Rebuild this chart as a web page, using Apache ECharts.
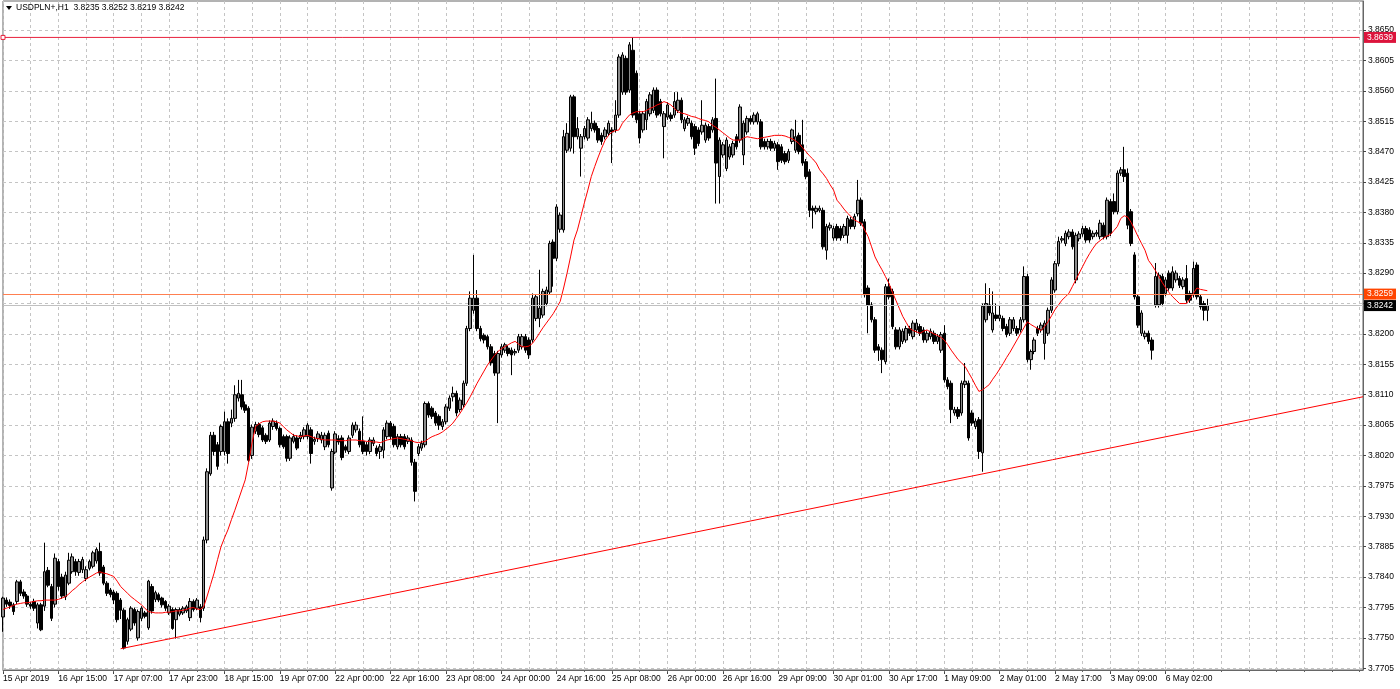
<!DOCTYPE html>
<html>
<head>
<meta charset="utf-8">
<script src="https://cdn.jsdelivr.net/npm/echarts@6/dist/echarts.min.js"></script>
<style>
html,body{margin:0;padding:0;background:#fff;}
#chart{width:1400px;height:689px;}
</style>
</head>
<body>
<div id="chart"></div>
<script>
// ---------- data ----------
const symbolName = 'USDPLN+,H1';
const lastBar = [3.8235, 3.8252, 3.8219, 3.8242];   // O H L C shown in header
const xTickLabels = ['15 Apr 2019','16 Apr 15:00','17 Apr 07:00','17 Apr 23:00','18 Apr 15:00','19 Apr 07:00',
  '22 Apr 00:00','22 Apr 16:00','23 Apr 08:00','24 Apr 00:00','24 Apr 16:00','25 Apr 08:00','26 Apr 00:00',
  '26 Apr 16:00','29 Apr 09:00','30 Apr 01:00','30 Apr 17:00','1 May 09:00','2 May 01:00','2 May 17:00',
  '3 May 09:00','6 May 02:00'];
const yTickValues = [3.7705,3.7750,3.7795,3.7840,3.7885,3.7930,3.7975,3.8020,3.8065,3.8110,3.8155,3.8200,
  3.8245,3.8290,3.8335,3.8380,3.8425,3.8470,3.8515,3.8560,3.8605,3.8650];
const slotCount = 394;          // hourly slots visible on the axis (bars + empty right margin)
const labelEvery = 16;
const gridEvery = 8;
const highLevel = 3.8639;
const orangeLevel = 3.8259;
const bidLevel = 3.8242;
const highLevelAnchors = [0, 392];   // slots where the level line's end markers sit
const trendFrom = [34, 3.7734];
const trendTo = [393, 3.8107];

// [open, close, low, high]
const ohlc = [
 [3.7781,3.7809,3.7759,3.7811],[3.7806,3.7800,3.7796,3.7810],[3.7803,3.7798,3.7793,3.7807],[3.7799,3.7789,3.7784,3.7802],[3.7804,3.7833,3.7800,3.7836],
 [3.7833,3.7816,3.7812,3.7836],[3.7818,3.7812,3.7808,3.7822],[3.7812,3.7800,3.7796,3.7815],[3.7800,3.7797,3.7793,3.7803],[3.7804,3.7794,3.7790,3.7808],
 [3.7772,3.7799,3.7764,3.7802],[3.7799,3.7762,3.7760,3.7802],[3.7797,3.7848,3.7790,3.7891],[3.7850,3.7828,3.7825,3.7855],[3.7826,3.7779,3.7775,3.7830],
 [3.7800,3.7868,3.7795,3.7875],[3.7863,3.7826,3.7820,3.7867],[3.7840,3.7812,3.7808,3.7845],[3.7811,3.7843,3.7806,3.7848],[3.7831,3.7865,3.7828,3.7876],
 [3.7848,3.7870,3.7845,3.7875],[3.7863,3.7848,3.7842,3.7867],[3.7847,3.7863,3.7842,3.7867],[3.7851,3.7866,3.7846,3.7870],[3.7838,3.7851,3.7834,3.7856],
 [3.7853,3.7863,3.7850,3.7866],[3.7856,3.7876,3.7853,3.7879],[3.7864,3.7881,3.7860,3.7884],[3.7878,3.7846,3.7842,3.7891],[3.7855,3.7831,3.7828,3.7858],
 [3.7831,3.7816,3.7812,3.7834],[3.7821,3.7814,3.7810,3.7824],[3.7818,3.7806,3.7800,3.7821],[3.7816,3.7777,3.7773,3.7819],[3.7806,3.7791,3.7778,3.7809],
 [3.7791,3.7735,3.7733,3.7794],[3.7745,3.7777,3.7740,3.7780],[3.7763,3.7794,3.7760,3.7797],[3.7792,3.7772,3.7768,3.7795],[3.7750,3.7789,3.7746,3.7792],
 [3.7779,3.7794,3.7775,3.7797],[3.7787,3.7782,3.7779,3.7790],[3.7765,3.7834,3.7762,3.7836],[3.7826,3.7790,3.7786,3.7830],[3.7807,3.7817,3.7803,3.7820],
 [3.7814,3.7806,3.7803,3.7817],[3.7809,3.7799,3.7795,3.7811],[3.7804,3.7794,3.7790,3.7806],[3.7787,3.7797,3.7784,3.7800],[3.7792,3.7764,3.7762,3.7795],
 [3.7777,3.7792,3.7749,3.7795],[3.7785,3.7792,3.7782,3.7795],[3.7787,3.7794,3.7784,3.7797],[3.7790,3.7796,3.7787,3.7799],[3.7780,3.7804,3.7775,3.7809],
 [3.7804,3.7792,3.7789,3.7807],[3.7794,3.7806,3.7791,3.7809],[3.7796,3.7780,3.7773,3.7800],[3.7794,3.7895,3.7790,3.7900],[3.7895,3.7996,3.7890,3.8001],
 // 60
 [3.7993,3.8050,3.7990,3.8055],[3.8050,3.8026,3.8020,3.8055],[3.8036,3.8004,3.7999,3.8040],[3.8026,3.8063,3.8020,3.8066],[3.8026,3.8070,3.8020,3.8085],
 [3.8070,3.8023,3.8008,3.8075],[3.8068,3.8075,3.8062,3.8088],[3.8075,3.8110,3.8070,3.8124],[3.8105,3.8112,3.8100,3.8132],[3.8110,3.8092,3.8088,3.8132],
 [3.8095,3.8087,3.8083,3.8100],[3.8090,3.8013,3.8010,3.8093],[3.8020,3.8062,3.8015,3.8066],[3.8056,3.8066,3.8052,3.8070],[3.8066,3.8051,3.8047,3.8069],
 [3.8061,3.8043,3.8040,3.8064],[3.8050,3.8041,3.8037,3.8053],[3.8043,3.8068,3.8040,3.8072],[3.8063,3.8071,3.8058,3.8075],[3.8068,3.8060,3.8057,3.8072],
 [3.8060,3.8036,3.8032,3.8063],[3.8048,3.8033,3.8030,3.8051],[3.8048,3.8016,3.8011,3.8051],[3.8016,3.8046,3.8012,3.8050],[3.8041,3.8048,3.8038,3.8052],
 [3.8046,3.8031,3.8028,3.8050],[3.8045,3.8050,3.8040,3.8055],[3.8048,3.8058,3.8044,3.8062],[3.8048,3.8065,3.8044,3.8068],[3.8058,3.8023,3.8008,3.8062],
 [3.8041,3.8044,3.8036,3.8048],[3.8045,3.8052,3.8040,3.8056],[3.8043,3.8050,3.8038,3.8055],[3.8033,3.8050,3.8028,3.8054],[3.8053,3.8036,3.8032,3.8057],
 [3.7972,3.8026,3.7968,3.8030],[3.8025,3.8052,3.8022,3.8056],[3.8045,3.8040,3.8036,3.8050],[3.8046,3.8017,3.8013,3.8050],[3.8033,3.8028,3.8024,3.8036],
 // 100
 [3.8026,3.8046,3.8022,3.8050],[3.8050,3.8065,3.8046,3.8069],[3.8058,3.8065,3.8054,3.8070],[3.8056,3.8036,3.8032,3.8060],[3.8041,3.8026,3.8022,3.8078],
 [3.8036,3.8026,3.8020,3.8040],[3.8026,3.8043,3.8022,3.8047],[3.8038,3.8043,3.8034,3.8047],[3.8031,3.8023,3.8019,3.8035],[3.8026,3.8033,3.8015,3.8037],
 [3.8028,3.8058,3.8016,3.8062],[3.8048,3.8068,3.8044,3.8072],[3.8068,3.8048,3.8044,3.8071],[3.8063,3.8036,3.8032,3.8067],[3.8033,3.8048,3.8029,3.8052],
 [3.8048,3.8036,3.8032,3.8052],[3.8048,3.8033,3.8029,3.8052],[3.8041,3.8046,3.8037,3.8050],[3.8043,3.8010,3.8005,3.8047],[3.8010,3.7967,3.7952,3.8015],
 [3.8023,3.8033,3.8019,3.8037],[3.8031,3.8038,3.8027,3.8042],[3.8036,3.8097,3.8032,3.8100],[3.8097,3.8080,3.8076,3.8100],[3.8090,3.8078,3.8074,3.8093],
 [3.8083,3.8068,3.8064,3.8086],[3.8078,3.8065,3.8058,3.8081],[3.8063,3.8070,3.8058,3.8074],[3.8070,3.8092,3.8066,3.8096],[3.8090,3.8105,3.8086,3.8109],
 [3.8107,3.8112,3.8100,3.8122],[3.8112,3.8083,3.8078,3.8116],[3.8088,3.8102,3.8084,3.8106],[3.8095,3.8127,3.8091,3.8131],[3.8127,3.8208,3.8123,3.8212],
 [3.8208,3.8253,3.8204,3.8263],[3.8235,3.8253,3.8230,3.8317],[3.8253,3.8208,3.8204,3.8265],[3.8208,3.8193,3.8189,3.8212],[3.8198,3.8191,3.8186,3.8201],
 // 140
 [3.8196,3.8181,3.8177,3.8199],[3.8181,3.8157,3.8153,3.8185],[3.8171,3.8142,3.8138,3.8175],[3.8142,3.8171,3.8068,3.8175],[3.8169,3.8181,3.8165,3.8185],
 [3.8176,3.8184,3.8172,3.8187],[3.8179,3.8171,3.8167,3.8183],[3.8176,3.8169,3.8139,3.8180],[3.8172,3.8174,3.8168,3.8178],[3.8176,3.8196,3.8172,3.8200],
 [3.8181,3.8196,3.8177,3.8200],[3.8196,3.8176,3.8172,3.8200],[3.8191,3.8169,3.8163,3.8195],[3.8191,3.8253,3.8187,3.8260],[3.8223,3.8255,3.8219,3.8259],
 [3.8223,3.8238,3.8210,3.8295],[3.8228,3.8263,3.8224,3.8267],[3.8245,3.8265,3.8241,3.8270],[3.8262,3.8334,3.8258,3.8338],[3.8336,3.8312,3.8270,3.8340],
 [3.8312,3.8388,3.8308,3.8392],[3.8355,3.8376,3.8350,3.8380],[3.8354,3.8492,3.8350,3.8502],[3.8472,3.8497,3.8468,3.8512],[3.8475,3.8551,3.8470,3.8554],
 [3.8551,3.8492,3.8467,3.8554],[3.8492,3.8504,3.8488,3.8521],[3.8475,3.8492,3.8433,3.8496],[3.8492,3.8504,3.8488,3.8508],[3.8490,3.8517,3.8486,3.8521],
 [3.8504,3.8512,3.8500,3.8529],[3.8512,3.8502,3.8498,3.8516],[3.8504,3.8487,3.8483,3.8508],[3.8494,3.8485,3.8480,3.8498],[3.8492,3.8502,3.8488,3.8506],
 [3.8497,3.8512,3.8493,3.8516],[3.8502,3.8499,3.8453,3.8506],[3.8502,3.8524,3.8498,3.8546],[3.8524,3.8610,3.8520,3.8614],[3.8558,3.8613,3.8554,3.8617],
 // 180
 [3.8608,3.8558,3.8554,3.8612],[3.8561,3.8628,3.8557,3.8632],[3.8620,3.8524,3.8520,3.8639],[3.8586,3.8517,3.8512,3.8590],[3.8526,3.8490,3.8482,3.8530],
 [3.8502,3.8526,3.8498,3.8530],[3.8517,3.8544,3.8502,3.8548],[3.8526,3.8554,3.8522,3.8558],[3.8531,3.8561,3.8527,3.8565],[3.8561,3.8524,3.8520,3.8565],
 [3.8544,3.8526,3.8522,3.8548],[3.8507,3.8526,3.8460,3.8530],[3.8521,3.8539,3.8517,3.8543],[3.8524,3.8519,3.8515,3.8528],[3.8524,3.8544,3.8520,3.8558],
 [3.8531,3.8546,3.8527,3.8558],[3.8546,3.8517,3.8512,3.8550],[3.8504,3.8517,3.8500,3.8521],[3.8512,3.8519,3.8508,3.8523],[3.8512,3.8492,3.8488,3.8516],
 [3.8507,3.8475,3.8465,3.8511],[3.8502,3.8482,3.8478,3.8506],[3.8499,3.8509,3.8495,3.8546],[3.8487,3.8509,3.8483,3.8513],[3.8507,3.8490,3.8486,3.8511],
 [3.8502,3.8517,3.8498,3.8521],[3.8519,3.8453,3.8393,3.8578],[3.8433,3.8487,3.8393,3.8491],[3.8465,3.8480,3.8461,3.8484],[3.8445,3.8487,3.8441,3.8491],
 [3.8462,3.8477,3.8458,3.8481],[3.8465,3.8482,3.8461,3.8486],[3.8492,3.8477,3.8473,3.8496],[3.8487,3.8536,3.8483,3.8540],[3.8465,3.8512,3.8450,3.8516],
 [3.8499,3.8519,3.8495,3.8523],[3.8519,3.8514,3.8510,3.8523],[3.8514,3.8524,3.8510,3.8528],[3.8514,3.8526,3.8510,3.8529],[3.8514,3.8477,3.8473,3.8518],
 // 220
 [3.8485,3.8477,3.8473,3.8489],[3.8477,3.8485,3.8473,3.8489],[3.8485,3.8475,3.8471,3.8489],[3.8475,3.8482,3.8471,3.8486],[3.8480,3.8455,3.8443,3.8484],
 [3.8477,3.8457,3.8453,3.8481],[3.8467,3.8455,3.8451,3.8471],[3.8457,3.8470,3.8453,3.8474],[3.8485,3.8502,3.8481,3.8504],[3.8472,3.8492,3.8468,3.8517],
 [3.8494,3.8470,3.8466,3.8498],[3.8480,3.8453,3.8449,3.8517],[3.8455,3.8433,3.8429,3.8459],[3.8440,3.8383,3.8373,3.8444],[3.8386,3.8383,3.8356,3.8390],
 [3.8381,3.8386,3.8377,3.8390],[3.8383,3.8386,3.8380,3.8390],[3.8383,3.8329,3.8325,3.8387],[3.8324,3.8359,3.8310,3.8363],[3.8357,3.8361,3.8353,3.8365],
 [3.8342,3.8356,3.8338,3.8360],[3.8359,3.8342,3.8338,3.8363],[3.8356,3.8342,3.8338,3.8360],[3.8346,3.8359,3.8342,3.8363],[3.8346,3.8371,3.8334,3.8375],
 [3.8369,3.8359,3.8355,3.8373],[3.8359,3.8374,3.8355,3.8378],[3.8378,3.8398,3.8374,3.8428],[3.8398,3.8364,3.8360,3.8402],[3.8366,3.8258,3.8254,3.8370],
 [3.8268,3.8243,3.8201,3.8272],[3.8243,3.8221,3.8217,3.8247],[3.8221,3.8176,3.8172,3.8225],[3.8181,3.8176,3.8160,3.8185],[3.8176,3.8162,3.8142,3.8180],
 [3.8159,3.8270,3.8155,3.8274],[3.8270,3.8255,3.8251,3.8282],[3.8263,3.8211,3.8207,3.8267],[3.8206,3.8181,3.8177,3.8210],[3.8181,3.8206,3.8177,3.8210],
 // 260
 [3.8189,3.8204,3.8185,3.8208],[3.8191,3.8208,3.8187,3.8212],[3.8208,3.8201,3.8197,3.8212],[3.8196,3.8216,3.8192,3.8220],[3.8206,3.8216,3.8202,3.8222],
 [3.8211,3.8201,3.8197,3.8215],[3.8206,3.8191,3.8187,3.8210],[3.8191,3.8201,3.8187,3.8205],[3.8196,3.8204,3.8192,3.8208],[3.8201,3.8189,3.8185,3.8205],
 [3.8189,3.8196,3.8185,3.8200],[3.8176,3.8199,3.8172,3.8203],[3.8201,3.8132,3.8128,3.8213],[3.8132,3.8122,3.8118,3.8136],[3.8127,3.8088,3.8068,3.8131],
 [3.8083,3.8088,3.8079,3.8092],[3.8088,3.8078,3.8074,3.8092],[3.8083,3.8127,3.8079,3.8131],[3.8125,3.8130,3.8120,3.8157],[3.8127,3.8046,3.8042,3.8131],
 [3.8083,3.8068,3.8064,3.8087],[3.8063,3.8071,3.8059,3.8075],[3.8073,3.8026,3.8015,3.8077],[3.8024,3.8241,3.7996,3.8245],[3.8221,3.8245,3.8217,3.8275],
 [3.8243,3.8231,3.8227,3.8268],[3.8206,3.8231,3.8202,3.8263],[3.8228,3.8223,3.8219,3.8245],[3.8223,3.8228,3.8219,3.8243],[3.8223,3.8208,3.8204,3.8227],
 [3.8211,3.8199,3.8195,3.8215],[3.8201,3.8221,3.8197,3.8225],[3.8208,3.8221,3.8204,3.8225],[3.8208,3.8201,3.8197,3.8212],[3.8206,3.8221,3.8202,3.8225],
 [3.8221,3.8285,3.8217,3.8300],[3.8285,3.8162,3.8158,3.8289],[3.8162,3.8174,3.8147,3.8177],[3.8174,3.8191,3.8170,3.8195],[3.8208,3.8201,3.8197,3.8212],
 // 300
 [3.8206,3.8213,3.8202,3.8217],[3.8186,3.8216,3.8162,3.8220],[3.8201,3.8235,3.8197,3.8239],[3.8235,3.8280,3.8231,3.8284],[3.8265,3.8304,3.8261,3.8308],
 [3.8304,3.8337,3.8300,3.8344],[3.8339,3.8341,3.8335,3.8345],[3.8334,3.8349,3.8330,3.8353],[3.8344,3.8351,3.8340,3.8355],[3.8351,3.8329,3.8325,3.8355],
 [3.8280,3.8346,3.8275,3.8350],[3.8341,3.8348,3.8337,3.8352],[3.8348,3.8356,3.8344,3.8360],[3.8356,3.8339,3.8335,3.8360],[3.8354,3.8339,3.8335,3.8358],
 [3.8344,3.8349,3.8340,3.8353],[3.8348,3.8350,3.8344,3.8354],[3.8344,3.8364,3.8340,3.8369],[3.8361,3.8344,3.8340,3.8365],[3.8344,3.8398,3.8340,3.8402],
 [3.8396,3.8349,3.8345,3.8400],[3.8396,3.8381,3.8377,3.8408],[3.8381,3.8438,3.8377,3.8442],[3.8438,3.8443,3.8434,3.8447],[3.8443,3.8433,3.8425,3.8477],
 [3.8438,3.8361,3.8355,3.8445],[3.8381,3.8334,3.8330,3.8385],[3.8317,3.8255,3.8251,3.8321],[3.8255,3.8213,3.8209,3.8259],[3.8201,3.8231,3.8197,3.8235],
 [3.8196,3.8201,3.8192,3.8205],[3.8201,3.8189,3.8185,3.8205],[3.8191,3.8176,3.8162,3.8195],[3.8243,3.8285,3.8239,3.8305],[3.8243,3.8287,3.8239,3.8291],
 [3.8285,3.8245,3.8241,3.8289],[3.8260,3.8280,3.8256,3.8284],[3.8290,3.8268,3.8264,3.8294],[3.8268,3.8292,3.8264,3.8300],[3.8280,3.8290,3.8276,3.8294],
 // 340
 [3.8282,3.8272,3.8268,3.8286],[3.8270,3.8280,3.8266,3.8284],[3.8282,3.8250,3.8246,3.8302],[3.8260,3.8250,3.8246,3.8264],[3.8258,3.8297,3.8254,3.8307],
 [3.8302,3.8255,3.8251,3.8306],[3.8255,3.8240,3.8236,3.8259],[3.8245,3.8235,3.8220,3.8249],[3.8235,3.8242,3.8219,3.8252]
];

// moving average, one value per bar
const maValues = [
 3.7792,3.7794,3.7796,3.7798,3.7800,3.7801,3.7802,3.7802,3.7803,3.7804,
 3.7805,3.7805,3.7806,3.7806,3.7806,3.7806,3.7807,3.7809,3.7811,3.7815,
 3.7820,3.7824,3.7829,3.7833,3.7837,3.7840,3.7843,3.7846,3.7848,3.7846,
 3.7845,3.7843,3.7841,3.7834,3.7826,3.7821,3.7816,3.7811,3.7807,3.7803,
 3.7799,3.7794,3.7789,3.7788,3.7787,3.7787,3.7787,3.7788,3.7788,3.7789,
 3.7790,3.7790,3.7791,3.7792,3.7794,3.7795,3.7793,3.7792,3.7796,3.7812,
 3.7829,3.7846,3.7866,3.7885,3.7898,3.7910,3.7925,3.7939,3.7954,3.7969,
 3.7984,3.8010,3.8040,3.8063,3.8067,3.8070,3.8071,3.8071,3.8071,3.8070,
 3.8068,3.8063,3.8058,3.8054,3.8050,3.8049,3.8048,3.8049,3.8050,3.8048,
 3.8046,3.8045,3.8044,3.8043,3.8043,3.8043,3.8043,3.8042,3.8042,3.8042,
 3.8043,3.8043,3.8043,3.8042,3.8042,3.8041,3.8041,3.8040,3.8040,3.8039,
 3.8041,3.8043,3.8044,3.8045,3.8046,3.8045,3.8044,3.8043,3.8042,3.8040,
 3.8039,3.8040,3.8041,3.8045,3.8048,3.8050,3.8052,3.8055,3.8059,3.8063,
 3.8068,3.8075,3.8082,3.8090,3.8098,3.8107,3.8117,3.8127,3.8136,3.8145,
 3.8154,3.8161,3.8168,3.8174,3.8178,3.8181,3.8184,3.8187,3.8189,3.8185,
 3.8181,3.8181,3.8182,3.8186,3.8193,3.8201,3.8209,3.8216,3.8223,3.8230,
 3.8239,3.8248,3.8268,3.8290,3.8314,3.8339,3.8354,3.8374,3.8394,3.8413,
 3.8433,3.8448,3.8462,3.8475,3.8487,3.8494,3.8499,3.8501,3.8502,3.8512,
 3.8518,3.8524,3.8527,3.8529,3.8529,3.8529,3.8531,3.8534,3.8536,3.8539,
 3.8541,3.8544,3.8542,3.8539,3.8534,3.8529,3.8527,3.8526,3.8524,3.8522,
 3.8521,3.8519,3.8517,3.8516,3.8514,3.8509,3.8506,3.8502,3.8498,3.8494,
 3.8490,3.8487,3.8487,3.8487,3.8490,3.8492,3.8491,3.8490,3.8489,3.8490,
 3.8491,3.8492,3.8493,3.8494,3.8494,3.8494,3.8493,3.8491,3.8489,3.8486,
 3.8482,3.8476,3.8470,3.8464,3.8459,3.8453,3.8443,3.8437,3.8430,3.8421,
 3.8413,3.8398,3.8392,3.8385,3.8379,3.8374,3.8369,3.8366,3.8364,3.8354,
 3.8344,3.8329,3.8314,3.8304,3.8295,3.8285,3.8275,3.8262,3.8250,3.8238,
 3.8226,3.8217,3.8208,3.8205,3.8203,3.8201,3.8204,3.8206,3.8203,3.8200,
 3.8198,3.8195,3.8191,3.8184,3.8176,3.8169,3.8162,3.8157,3.8152,3.8143,
 3.8134,3.8124,3.8115,3.8117,3.8121,3.8125,3.8133,3.8140,3.8148,3.8156,
 3.8165,3.8173,3.8182,3.8191,3.8200,3.8209,3.8218,3.8214,3.8211,3.8208,
 3.8205,3.8211,3.8218,3.8227,3.8236,3.8243,3.8250,3.8255,3.8260,3.8270,
 3.8280,3.8290,3.8300,3.8310,3.8319,3.8327,3.8334,3.8338,3.8342,3.8345,
 3.8347,3.8353,3.8359,3.8371,3.8375,3.8373,3.8365,3.8355,3.8344,3.8334,
 3.8324,3.8309,3.8302,3.8294,3.8285,3.8276,3.8268,3.8261,3.8255,3.8250,
 3.8245,3.8245,3.8245,3.8252,3.8260,3.8268,3.8266,3.8265,3.8264
];

// ---------- chart ----------
const slots = Array.from({length: slotCount}, (_, i) => i);
const FONT = '"Liberation Sans", Arial, sans-serif';
const chart = echarts.init(document.getElementById('chart'), null, {renderer: 'canvas'});

const lvlLabel = (bg, fg) => ({
  show: true, position: 'end', distance: 1, formatter: p => p.value.toFixed(4),
  color: fg, backgroundColor: bg, padding: [1, 3, 0, 3], fontFamily: FONT, fontSize: 8.5, lineHeight: 10
});

chart.setOption({
  animation: false,
  backgroundColor: '#ffffff',
  grid: {left: 2, right: 37, top: 1, bottom: 19, show: true, borderColor: '#666', borderWidth: 1, backgroundColor: '#fff'},
  graphic: [
    {type: 'polygon', shape: {points: [[6, 6], [12, 6], [9, 10]]}, style: {fill: '#000'}, z: 100},
    {type: 'text', left: 16, top: 3, z: 100,
     style: {text: symbolName + '  ' + lastBar.map(v => v.toFixed(4)).join(' '), font: '8.5px ' + FONT, fill: '#000'}}
  ],
  xAxis: [
    {
      type: 'category', data: slots, boundaryGap: false, position: 'bottom',
      axisLine: {show: true, lineStyle: {color: '#666', width: 1}},
      axisTick: {show: true, length: 4, lineStyle: {color: '#444'},
                 interval: i => i % labelEvery === 0 && i / labelEvery < xTickLabels.length},
      axisLabel: {show: true, align: 'left', margin: 4, color: '#000', fontFamily: FONT, fontSize: 8.5,
                  hideOverlap: false,
                  interval: i => i % labelEvery === 0 && i / labelEvery < xTickLabels.length,
                  formatter: (v, i) => xTickLabels[i / labelEvery] || ''},
      splitLine: {show: true, interval: i => i % gridEvery === 0,
                  lineStyle: {color: '#c4c4c4', type: [3, 3], width: 1}}
    },
    {
      type: 'category', data: slots, boundaryGap: false, position: 'bottom',
      axisLine: {show: false},
      axisTick: {show: true, length: 2, lineStyle: {color: '#666'}, interval: i => i % gridEvery === 0},
      axisLabel: {show: false},
      splitLine: {show: false}
    }
  ],
  yAxis: {
    type: 'value', position: 'right', min: 3.77025, max: 3.86929, scale: true,
    axisLine: {show: true, lineStyle: {color: '#666', width: 1}},
    axisTick: {show: true, length: 3, customValues: yTickValues, lineStyle: {color: '#444'}},
    axisLabel: {show: true, customValues: yTickValues, formatter: v => v.toFixed(4), margin: 5,
                color: '#000', fontFamily: FONT, fontSize: 8.5},
    splitLine: {show: true, lineStyle: {color: '#c4c4c4', type: [3, 3], width: 1}}
  },
  series: [
    {
      type: 'candlestick', name: symbolName, xAxisIndex: 0, data: ohlc, barWidth: 3, large: false,
      itemStyle: {color: '#8c8c8c', color0: '#000000', borderColor: '#000000', borderColor0: '#000000', borderWidth: 1},
      markLine: {
        silent: true, animation: false, symbol: ['none', 'none'], precision: 4,
        data: [
          {yAxis: bidLevel, lineStyle: {color: '#c0c0c0', type: 'solid', width: 1}, label: lvlLabel('#000000', '#ffffff')},
          {yAxis: orangeLevel, lineStyle: {color: '#ff7f50', type: 'solid', width: 1}, label: lvlLabel('#ff4500', '#ffffff')},
          {yAxis: highLevel, lineStyle: {color: 'rgba(0,0,0,0)', type: 'solid', width: 1}, label: lvlLabel('#dc143c', '#ffffff')},
          [{coord: trendFrom, lineStyle: {color: '#ff0000', type: 'solid', width: 1}, label: {show: false}},
           {coord: trendTo}]
        ]
      }
    },
    {
      type: 'line', name: 'MA', xAxisIndex: 0, data: maValues, showSymbol: false, symbol: 'none',
      lineStyle: {color: '#ff0000', width: 1}, z: 3
    },
    {
      type: 'line', name: 'highLevel', xAxisIndex: 0, z: 6, silent: true,
      data: highLevelAnchors.map(s => [s, highLevel]),
      showSymbol: true, symbol: 'rect', symbolSize: 4,
      color: '#e8203c',
      lineStyle: {color: '#e8203c', width: 1, type: 'solid'},
      itemStyle: {color: '#ffffff', borderColor: '#e8203c', borderWidth: 1}
    }
  ]
});
</script>
</body>
</html>
